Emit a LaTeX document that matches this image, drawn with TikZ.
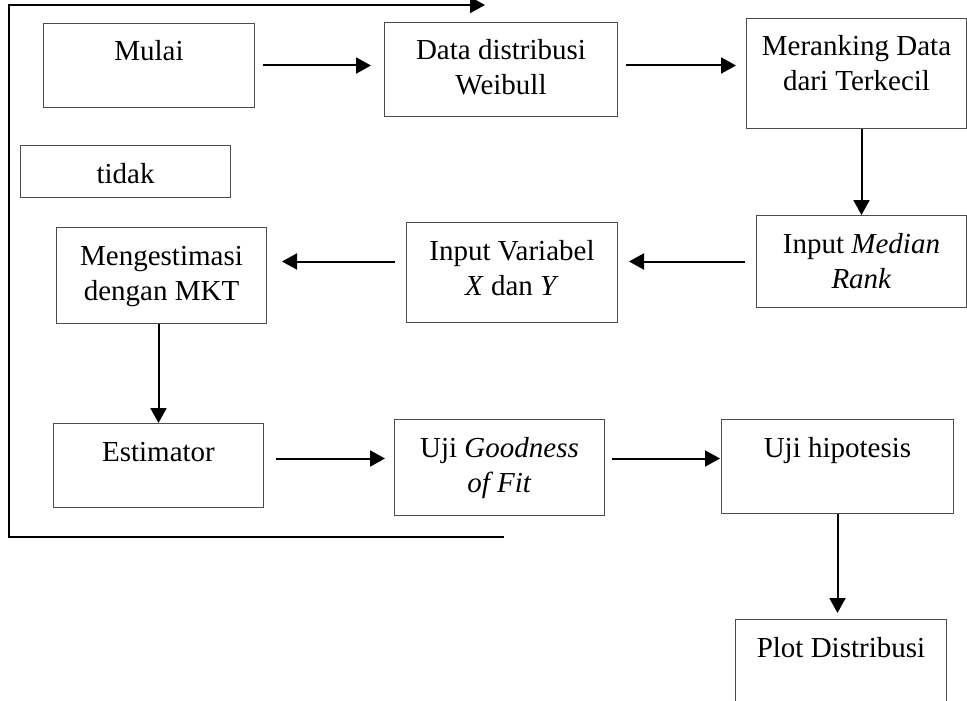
\documentclass[tikz,border=0pt]{standalone}
\usepackage{fontspec}
\setmainfont{Liberation Serif}
\usetikzlibrary{arrows.meta, positioning, calc}
\tikzstyle{block} = [rectangle, draw=black!70, line width=1pt, inner sep=0pt,
                     anchor=north west, font=\fontsize{29}{35}\selectfont]
\tikzstyle{arrow} = [line width=2pt, -{Triangle[length=15pt, width=16pt]}]
\newcommand{\blocktext}[3]{\parbox[t][#2pt][t]{#1pt}{\centering\rule{0pt}{37.5pt}#3}}

\begin{document}
\begin{tikzpicture}[x=1pt, y=-1pt]
  \useasboundingbox (0,0) rectangle (967,701);
  \clip (0,0) rectangle (967,701);

  \node (mulai)        [block] at (43,23)   {\blocktext{211}{84}{Mulai}};
  \node (data)         [block] at (384,22)  {\blocktext{233}{94}{Data distribusi\\Weibull}};
  \node (meranking)    [block] at (746,18)  {\blocktext{220}{110}{Meranking Data\\dari Terkecil}};
  \node (tidak)        [block] at (20,145)  {\blocktext{210}{52}{tidak}};
  \node (median)       [block] at (756,215) {\blocktext{210}{92}{Input \emph{Median}\\\emph{Rank}}};
  \node (variabel)     [block] at (406,222) {\blocktext{211}{100}{Input Variabel\\\emph{X} dan \emph{Y}}};
  \node (mengestimasi) [block] at (56,227)  {\blocktext{210}{96}{Mengestimasi\\dengan MKT}};
  \node (estimator)    [block] at (53,423)  {\blocktext{210}{84}{Estimator}};
  \node (goodness)     [block] at (394,419) {\blocktext{210}{96}{Uji \emph{Goodness}\\\emph{of Fit}}};
  \node (hipotesis)    [block] at (721,419) {\blocktext{232}{94}{Uji hipotesis}};
  \node (plot)         [block] at (735,619) {\blocktext{211}{100}{Plot Distribusi}};

  % alur utama
  \draw[arrow, shorten <=8pt, shorten >=13pt] (mulai.east) -- (mulai.east -| data.west);
  \draw[arrow, shorten <=8pt, shorten >=10pt] (data.east |- mulai.east) -- (meranking.west |- mulai.east);
  \draw[arrow] (meranking.south -| median.north) -- (median.north);
  \draw[arrow, shorten <=11pt, shorten >=11pt] (median.west) -- (median.west -| variabel.east);
  \draw[arrow, shorten <=11pt, shorten >=15pt] (variabel.west |- median.west) -- (median.west -| mengestimasi.east);
  \draw[arrow] (mengestimasi.south -| estimator.north) -- (estimator.north);
  \coordinate (row3) at ([yshift=7pt]estimator.east);
  \draw[arrow, shorten <=12pt, shorten >=9pt] (estimator.east |- row3) -- (goodness.west |- row3);
  \draw[arrow, shorten <=7pt, shorten >=1pt] (goodness.east |- row3) -- (hipotesis.west |- row3);
  \draw[arrow, shorten >=6pt] (hipotesis.south) -- (hipotesis.south |- plot.north);

  % kembali (tidak)
  \coordinate (loopstart)  at (504,537);
  \coordinate (loopcorner) at (9,5);
  \coordinate (loopend)    at (485,5);
  \draw[arrow] (loopstart) -| (loopcorner) -- (loopend);
\end{tikzpicture}
\end{document}
